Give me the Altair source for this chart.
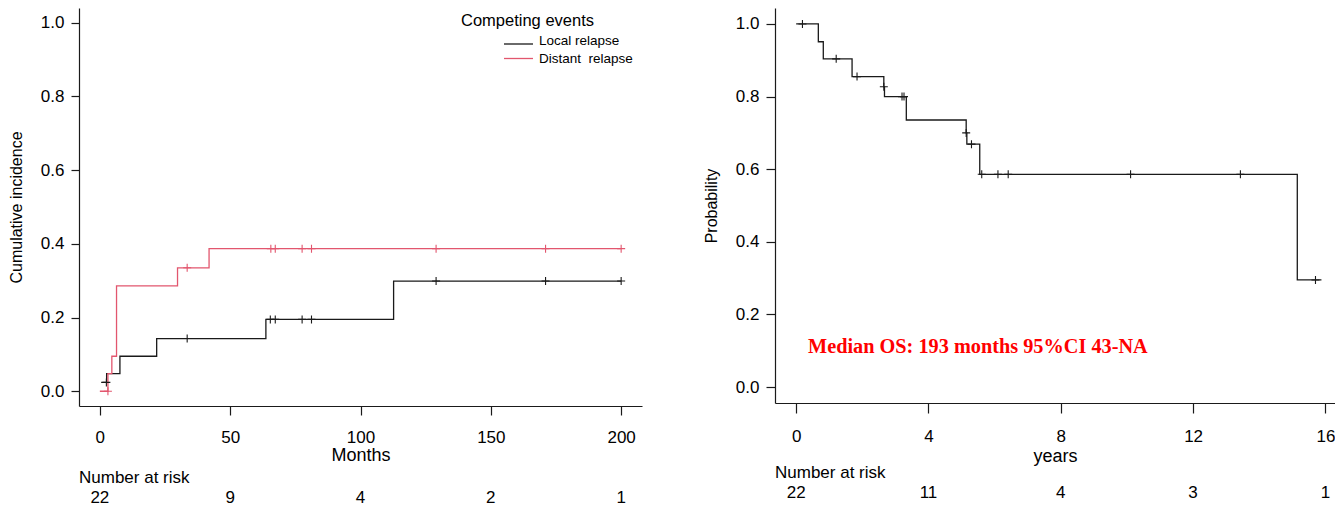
import altair as alt
import pandas as pd

# ---------------- Left panel: competing events (months) ----------------
local_t = [0.5, 2.6, 7.7, 21.8, 63.7, 112.7, 200]
local_v = [0.024, 0.048, 0.095, 0.143, 0.195, 0.299, 0.299]
distant_t = [0, 3.1, 4.6, 6.4, 29.8, 41.9, 200]
distant_v = [0.0, 0.048, 0.095, 0.286, 0.335, 0.387, 0.387]
local_cens_t = [2.5, 33.5, 65.4, 67.3, 77.6, 81.2, 129, 171, 200]
local_cens_v = [0.024, 0.143, 0.195, 0.195, 0.195, 0.195, 0.299, 0.299, 0.299]
distant_cens_t = [3.1, 33.5, 65.6, 67.3, 77.6, 81.2, 129, 171, 200]
distant_cens_v = [0.0, 0.335, 0.387, 0.387, 0.387, 0.387, 0.387, 0.387, 0.387]
series_names = ["Local relapse", "Distant\u00a0 relapse"]
month_ticks = [0, 50, 100, 150, 200]
risk_left = [22, 9, 4, 2, 1]
legend_title = "Competing events"

# ---------------- Right panel: overall survival (years) ----------------
os_t = [0, 0.67, 0.82, 1.69, 2.65, 2.67, 3.33, 5.14, 5.16, 5.55, 15.15, 15.88]
os_v = [1.0, 0.951, 0.904, 0.855, 0.827, 0.800, 0.7355, 0.700, 0.669, 0.586, 0.295, 0.295]
os_cens_t = [0.19, 1.21, 1.84, 2.65, 3.20, 3.26, 5.14, 5.30, 5.61, 6.10, 6.41, 10.11, 13.43, 15.70]
os_cens_v = [1.0, 0.904, 0.855, 0.827, 0.80, 0.80, 0.70, 0.669, 0.586, 0.586, 0.586, 0.586, 0.586, 0.295]
year_ticks = [0, 4, 8, 12, 16]
risk_right = [22, 11, 4, 3, 1]
median_text = "Median OS: 193 months 95%CI 43-NA"
prob_ticks = [0.0, 0.2, 0.4, 0.6, 0.8, 1.0]

RED = "#E2566E"
INK = "#1a1a1a"
PLUS = "M-1,0L1,0M0,-1L0,1"
FONT = "Liberation Sans"

# ---------------- tables ----------------
curves_left = pd.DataFrame({
    "t": local_t + distant_t,
    "v": local_v + distant_v,
    "s": [series_names[0]] * len(local_t) + [series_names[1]] * len(distant_t),
})
cens_left = pd.DataFrame({
    "t": local_cens_t + distant_cens_t,
    "v": local_cens_v + distant_cens_v,
    "s": [series_names[0]] * len(local_cens_t) + [series_names[1]] * len(distant_cens_t),
})
risk_left_df = pd.DataFrame({"t": month_ticks, "n": [str(n) for n in risk_left]})
curve_right = pd.DataFrame({"t": os_t, "v": os_v})
cens_right = pd.DataFrame({"t": os_cens_t, "v": os_cens_v})
risk_right_df = pd.DataFrame({"t": year_ticks, "n": [str(n) for n in risk_right]})
legend_df = pd.DataFrame({"s": series_names})

color = alt.Color("s:N", scale=alt.Scale(domain=series_names, range=[INK, RED]), legend=None)

# ---------------- left panel ----------------
WL, HL = 563, 398
xl = alt.X("t:Q", scale=alt.Scale(domain=[-8, 208], nice=False, zero=False),
           axis=alt.Axis(values=month_ticks, title="Months", tickSize=9, labelPadding=14,
                         titlePadding=1, labelFontSize=17, titleFontSize=18, format="d"))
yl = alt.Y("v:Q", scale=alt.Scale(domain=[-0.04, 1.04], nice=False, zero=False),
           axis=alt.Axis(values=prob_ticks, format=".1f", title="Cumulative incidence",
                         tickSize=8, labelPadding=7, titlePadding=16, labelFontSize=17,
                         titleFontSize=16))

lines_l = alt.Chart(curves_left).mark_line(interpolate="step-after", strokeWidth=1.3).encode(
    x=xl, y=yl, color=color, detail="s:N")
cens_l = alt.Chart(cens_left).mark_point(shape=PLUS, filled=False, size=64, strokeWidth=1.1,
                                         opacity=1).encode(x=xl, y=yl, color=color)
leg_title = alt.Chart(pd.DataFrame({"lab": [legend_title]})).mark_text(
    align="left", baseline="middle", fontSize=16.5, font=FONT, color="black").encode(
    x=alt.value(382), y=alt.value(12.7), text="lab:N")
leg_rule_l = alt.Chart(legend_df.iloc[[0]]).mark_rule(strokeWidth=1.3).encode(
    x=alt.value(425), x2=alt.value(454), y=alt.value(36), color=color)
leg_rule_d = alt.Chart(legend_df.iloc[[1]]).mark_rule(strokeWidth=1.3).encode(
    x=alt.value(425), x2=alt.value(454), y=alt.value(50.5), color=color)
leg_text_l = alt.Chart(legend_df.iloc[[0]]).mark_text(
    align="left", baseline="middle", fontSize=13.5, font=FONT, color="black").encode(
    x=alt.value(460), y=alt.value(32.5), text="s:N")
leg_text_d = alt.Chart(legend_df.iloc[[1]]).mark_text(
    align="left", baseline="middle", fontSize=13.5, font=FONT, color="black").encode(
    x=alt.value(460), y=alt.value(51), text="s:N")
risk_head_l = alt.Chart(pd.DataFrame({"lab": ["Number at risk"]})).mark_text(
    align="left", baseline="middle", fontSize=17, font=FONT, color="black").encode(
    x=alt.value(0), y=alt.value(470), text="lab:N")
risk_num_l = alt.Chart(risk_left_df).mark_text(
    align="center", baseline="middle", fontSize=17, font=FONT, color="black").encode(
    x=xl, y=alt.value(490), text="n:N")

left = alt.layer(lines_l, cens_l, leg_title, leg_rule_l, leg_rule_d, leg_text_l, leg_text_d,
                 risk_head_l, risk_num_l).properties(width=WL, height=HL)

# ---------------- right panel ----------------
WR, HR = 560, 395
xr = alt.X("t:Q", scale=alt.Scale(domain=[-0.64, 16.29], nice=False, zero=False),
           axis=alt.Axis(values=year_ticks, title="years", tickSize=10, labelPadding=15,
                         titlePadding=3, labelFontSize=17, titleFontSize=18, format="d"))
yr = alt.Y("v:Q", scale=alt.Scale(domain=[-0.044, 1.044], nice=False, zero=False),
           axis=alt.Axis(values=prob_ticks, format=".1f", title="Probability",
                         tickSize=9, labelPadding=7, titlePadding=16, labelFontSize=17,
                         titleFontSize=16))

line_r = alt.Chart(curve_right).mark_line(interpolate="step-after", strokeWidth=1.3,
                                          color=INK).encode(x=xr, y=yr)
cens_r = alt.Chart(cens_right).mark_point(shape=PLUS, filled=False, size=64, strokeWidth=1.1,
                                          opacity=1, color=INK).encode(x=xr, y=yr)
median_r = alt.Chart(pd.DataFrame({"lab": [median_text]})).mark_text(
    align="left", baseline="middle", fontSize=20.3, font="Liberation Serif", fontWeight="bold",
    color="#FF0000").encode(x=alt.value(33), y=alt.value(339), text="lab:N")
risk_head_r = alt.Chart(pd.DataFrame({"lab": ["Number at risk"]})).mark_text(
    align="left", baseline="middle", fontSize=17, font=FONT, color="black").encode(
    x=alt.value(0), y=alt.value(464.5), text="lab:N")
risk_num_r = alt.Chart(risk_right_df).mark_text(
    align="center", baseline="middle", fontSize=17, font=FONT, color="black").encode(
    x=xr, y=alt.value(485), text="n:N")

right = alt.layer(line_r, cens_r, median_r, risk_head_r, risk_num_r).properties(
    width=WR, height=HR)

chart = alt.hconcat(left, right, spacing=61).properties(
    padding={"left": 0, "top": 0, "right": 0, "bottom": 0}
).configure_view(stroke=None).configure_axis(
    grid=False, domainColor=INK, tickColor=INK, labelColor="black", titleColor="black",
    labelFont=FONT, titleFont=FONT, titleFontWeight="normal", domainWidth=1.2, tickWidth=1.2
)

chart.save("out.html", embed_options={"renderer": "svg", "actions": False})
